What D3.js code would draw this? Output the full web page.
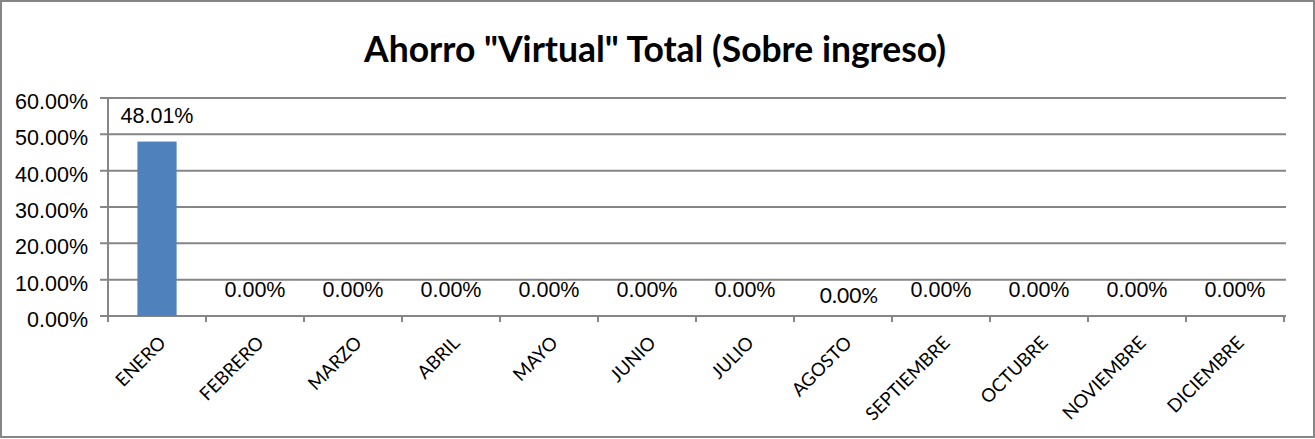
<!DOCTYPE html>
<html>
<head>
<meta charset="utf-8">
<script src="https://cdn.jsdelivr.net/npm/d3@7"></script>
<style>
  html, body { margin: 0; padding: 0; background: #fff; }
  svg { display: block; }
</style>
</head>
<body>
<svg id="chart" width="1315" height="439"></svg>
<script>
const title = 'Ahorro "Virtual" Total (Sobre ingreso)';
const categories = ["ENERO","FEBRERO","MARZO","ABRIL","MAYO","JUNIO","JULIO","AGOSTO","SEPTIEMBRE","OCTUBRE","NOVIEMBRE","DICIEMBRE"];
const values = [0.4801, 0, 0, 0, 0, 0, 0, 0, 0, 0, 0, 0];
const yTicks = [0, 0.1, 0.2, 0.3, 0.4, 0.5, 0.6];

const W = 1315, H = 439;
const plot = { left: 108, right: 1284, top: 98, bottom: 316 };
const gridColor = "#868686";
const barColor = "#4F81BD";
const pct = d3.format(".2%");

const svg = d3.select("#chart");

// outer frame
svg.append("rect")
  .attr("x", 1).attr("y", 1).attr("width", W - 2).attr("height", H - 3)
  .attr("fill", "#fff").attr("stroke", gridColor).attr("stroke-width", 2);

// title
const t = svg.append("text")
  .attr("x", 655).attr("y", 62)
  .attr("text-anchor", "middle")
  .attr("font-family", "Lato, 'Open Sans', sans-serif")
  .attr("font-weight", "bold")
  .attr("font-size", 30)
  .attr("fill", "#000")
  .text(title);
const tw = t.node().getComputedTextLength();
t.attr("font-size", 30 * 582 / tw);

const x = d3.scaleBand().domain(categories).range([plot.left, plot.right]).padding(0);
const y = d3.scaleLinear().domain([0, 0.6]).range([plot.bottom, plot.top]);

// gridlines with left tick extension
svg.append("g").selectAll("line").data(yTicks).join("line")
  .attr("x1", plot.left - 8).attr("x2", plot.right + 2)
  .attr("y1", d => y(d)).attr("y2", d => y(d))
  .attr("stroke", gridColor).attr("stroke-width", 2);

// y axis line
svg.append("line")
  .attr("x1", plot.left).attr("x2", plot.left)
  .attr("y1", plot.top).attr("y2", plot.bottom + 6)
  .attr("stroke", gridColor).attr("stroke-width", 2);

// x tick marks at band boundaries
const bounds = categories.map(c => x(c)).concat([plot.right]);
svg.append("g").selectAll("line").data(bounds).join("line")
  .attr("x1", d => d).attr("x2", d => d)
  .attr("y1", plot.bottom).attr("y2", plot.bottom + 6)
  .attr("stroke", gridColor).attr("stroke-width", 2);

// y labels
svg.append("g").selectAll("text").data(yTicks).join("text")
  .attr("x", 88).attr("y", d => y(d) + 11)
  .attr("text-anchor", "end")
  .attr("font-family", "Arial, 'Liberation Sans', sans-serif")
  .attr("font-size", 21.5)
  .attr("fill", "#000")
  .text(d => pct(d));

// bars
const bw = x.bandwidth() * 0.4;
svg.append("g").selectAll("rect").data(values).join("rect")
  .attr("x", (d, i) => x(categories[i]) + x.bandwidth() / 2 - bw / 2)
  .attr("width", bw)
  .attr("y", d => y(d))
  .attr("height", d => y(0) - y(d))
  .attr("fill", barColor);

// data labels
svg.append("g").selectAll("text").data(values).join("text")
  .attr("x", (d, i) => x(categories[i]) + x.bandwidth() / 2 + (i === 7 ? 6 : 0))
  .attr("y", (d, i) => y(d) - (i === 7 ? 13 : 19))
  .attr("text-anchor", "middle")
  .attr("font-family", (d, i) => i === 7 ? "Lato, 'Open Sans', sans-serif" : "Arial, 'Liberation Sans', sans-serif")
  .attr("font-size", (d, i) => i === 7 ? 21 : 21.5)
  .attr("fill", "#000")
  .text(d => pct(d));

// x labels rotated
svg.append("g").selectAll("text").data(categories).join("text")
  .attr("transform", c => `translate(${x(c) + x.bandwidth() / 2 + 10},${plot.bottom + 28}) rotate(-45)`)
  .attr("text-anchor", "end")
  .attr("font-family", "Lato, 'Open Sans', sans-serif")
  .attr("font-size", 18.5)
  .attr("fill", "#000")
  .text(c => c);
</script>
</body>
</html>
